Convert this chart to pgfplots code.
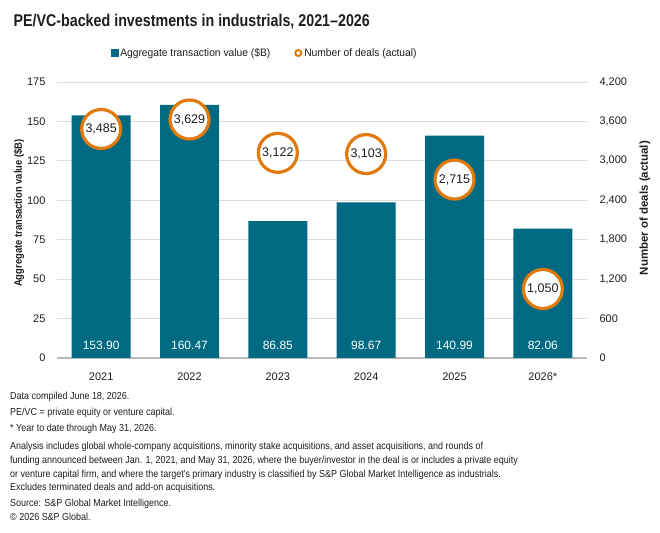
\documentclass[border=0pt]{standalone}
\usepackage{fontspec}
\setmainfont{Liberation Sans}
\newfontfamily\narrow[FakeStretch=0.88]{Liberation Sans}
\newfontfamily\legfont[FakeStretch=0.95]{Liberation Sans}
\newfontfamily\titlefont[FakeStretch=0.84]{Liberation Sans}
\usepackage{pgfplots}
\usepackage{pgfplotstable}
\pgfplotsset{compat=1.18}
\definecolor{spteal}{RGB}{0,106,130}
\definecolor{sporange}{RGB}{224,122,13}
\definecolor{gridgray}{RGB}{220,220,220}
\definecolor{txt}{RGB}{30,30,30}
\pgfplotstableread{
x y lab
0 153.90 153.90
1 160.47 160.47
2 86.85 86.85
3 98.67 98.67
4 140.99 140.99
5 82.06 82.06
}\valuetable
\pgfplotstableread{
x y lab
0 3485 3,485
1 3629 3,629
2 3122 3,122
3 3103 3,103
4 2715 2,715
5 1050 1,050
}\dealtable
\begin{document}
\begin{tikzpicture}
\useasboundingbox (0,0) rectangle (660bp,533bp);
\begin{axis}[
  at={(57bp,175bp)}, anchor=south west,
  width=530bp, height=276bp, scale only axis,
  xmin=-0.5, xmax=5.5, ymin=0, ymax=175,
  ytick={0,25,...,175},
  xtick={0,...,5}, xticklabels={2021,2022,2023,2024,2025,2026*},
  axis x line*=bottom, axis y line*=left,
  y axis line style={draw=none},
  x axis line style={draw=gray!55, line width=1.5bp, -},
  major tick length=0pt,
  ymajorgrids, grid style={gridgray, line width=0.8bp},
  /pgf/number format/assume math mode=true,
  tick label style={font=\fontsize{11bp}{13bp}\selectfont, text=txt},
  yticklabel style={xshift=-8bp},
  xticklabel style={yshift=-11bp},
  ylabel={\narrow\bfseries Aggregate transaction value (\$B)},
  ylabel style={at={(rel axis cs:0,0.525)}, yshift=38bp, anchor=center, font=\fontsize{10.7bp}{12bp}\selectfont, text=txt},
  clip=false,
]
\addplot[ybar, bar width=59bp, fill=spteal, draw=none] table[x=x,y=y] {\valuetable};
\addplot[draw=none, mark=none, point meta=explicit symbolic,
  nodes near coords,
  every node near coord/.style={anchor=base, yshift=8bp, text=white, font=\fontsize{12bp}{14bp}\selectfont}]
  table[x=x, y expr=0, meta=lab] {\valuetable};
\end{axis}
\begin{axis}[
  at={(57bp,175bp)}, anchor=south west,
  width=530bp, height=276bp, scale only axis,
  xmin=-0.5, xmax=5.5, ymin=0, ymax=4200,
  ytick={0,600,...,4200},
  axis y line*=right, axis x line=none,
  y axis line style={draw=none},
  major tick length=0pt,
  /pgf/number format/1000 sep={,},
  /pgf/number format/assume math mode=true,
  tick label style={font=\fontsize{11bp}{13bp}\selectfont, text=txt},
  yticklabel style={anchor=west, xshift=9bp},
  ylabel={\bfseries Number of deals (actual)},
  ylabel style={at={(rel axis cs:1,0.543)}, yshift=-58bp, anchor=center, font=\fontsize{11.5bp}{12bp}\selectfont, text=txt},
  clip=false,
  legend columns=2,
  legend style={draw=none, fill=none, at={(0.392,1.105)}, anchor=center,
    font=\legfont\fontsize{10.8bp}{13bp}\selectfont, text=txt,
    /tikz/every even column/.append style={column sep=22bp}},
]
\addlegendimage{legend image code/.code={\fill[spteal] (0bp,-3.5bp) rectangle (7bp,3.5bp);}}
\addlegendentry{Aggregate transaction value (\$B)}
\addlegendimage{legend image code/.code={\draw[sporange, line width=2bp] (3.5bp,0) circle (3bp);}}
\addlegendentry{Number of deals (actual)}
\addplot[only marks, mark=*, mark size=19.5bp, forget plot,
  mark options={fill=white, draw=sporange, line width=3.2bp},
  point meta=explicit symbolic, nodes near coords,
  every node near coord/.style={anchor=center, text=txt, font=\fontsize{12.5bp}{14bp}\selectfont}]
  table[x=x, y=y, meta=lab] {\dealtable};
\end{axis}
\node[anchor=base west, text=txt, font=\titlefont\bfseries\fontsize{17bp}{20bp}\selectfont] at (10bp,506bp) {PE/VC-backed investments in industrials, 2021–2026};
\begin{scope}[every node/.style={anchor=base west, text=txt, inner sep=0pt, font=\narrow\fontsize{10.2bp}{12bp}\selectfont}]
\node at (10bp,133bp) {Data compiled June 18, 2026.};
\node at (10bp,117bp) {PE/VC = private equity or venture capital.};
\node at (10bp,101bp) {* Year to date through May 31, 2026.};
\node at (10bp,83bp) {Analysis includes global whole-company acquisitions, minority stake acquisitions, and asset acquisitions, and rounds of};
\node at (10bp,69bp) {funding announced between Jan. 1, 2021, and May 31, 2026, where the buyer/investor in the deal is or includes a private equity};
\node at (10bp,55bp) {or venture capital firm, and where the target's primary industry is classified by S\&P Global Market Intelligence as industrials.};
\node at (10bp,42bp) {Excludes terminated deals and add-on acquisitions.};
\node at (10bp,27bp) {Source: S\&P Global Market Intelligence.};
\node at (10bp,13bp) {\textcopyright{} 2026 S\&P Global.};
\end{scope}
\end{tikzpicture}
\end{document}
